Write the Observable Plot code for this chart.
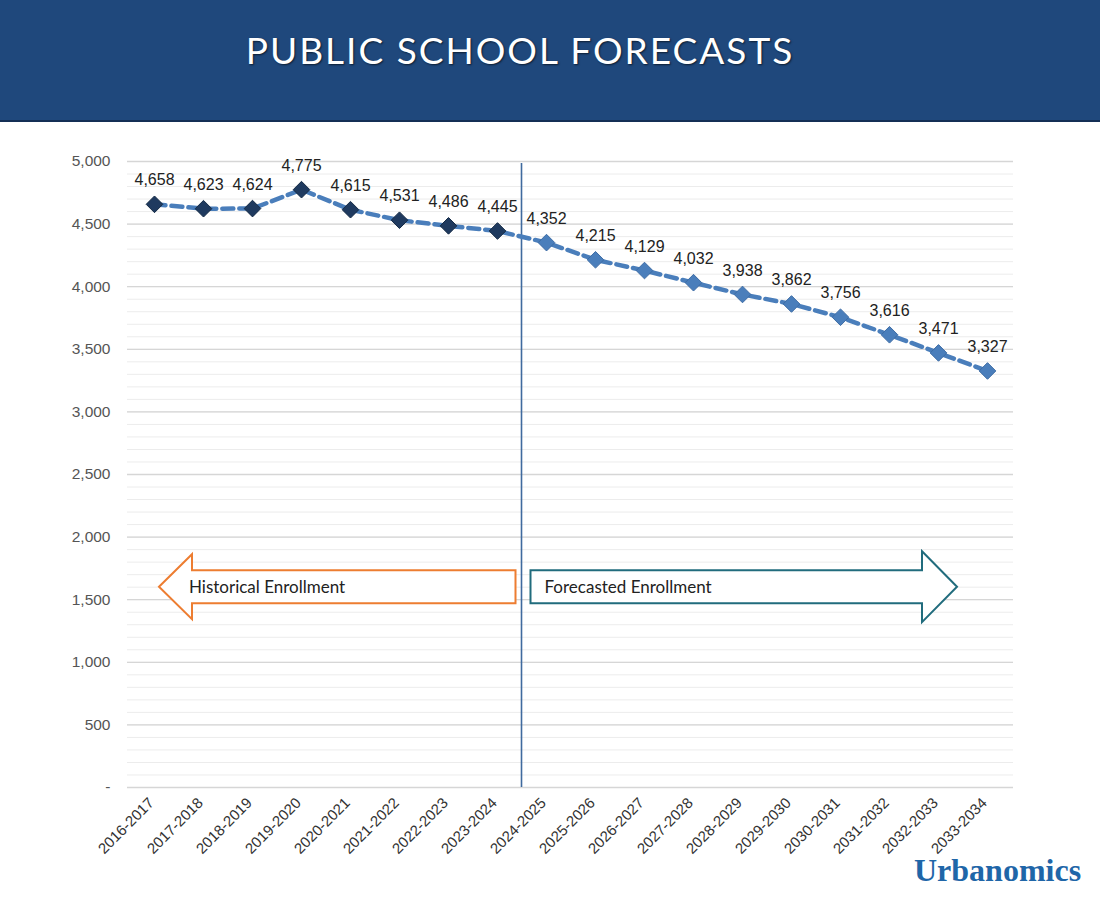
<!DOCTYPE html>
<html><head><meta charset="utf-8">
<script src="https://cdn.jsdelivr.net/npm/d3@7"></script>
<script src="https://cdn.jsdelivr.net/npm/@observablehq/plot@0.6"></script>
<style>
body{margin:0;background:#fff;width:1100px;height:921px;position:relative;overflow:hidden;font-family:Lato,"Open Sans",sans-serif}
#header{position:absolute;left:0;top:0;width:1100px;height:120px;background:#1f487c;border-bottom:2px solid #142f55}
#title{position:absolute;left:0;width:1040px;text-align:center;top:27px;color:#fff;font-size:37px;letter-spacing:2px;text-shadow:1px 1px 2px rgba(0,0,0,.6)}
#chart{position:absolute;left:0;top:122px}
#logo{position:absolute;left:914px;top:852px;font-family:"Liberation Serif",serif;font-weight:bold;font-size:32px;color:#1f66a8}
</style></head>
<body>
<div id="header"><div id="title">PUBLIC SCHOOL FORECASTS</div></div>
<div id="chart"></div>
<div id="logo">Urbanomics</div>
<script>
const years = ["2016-2017","2017-2018","2018-2019","2019-2020","2020-2021","2021-2022","2022-2023","2023-2024","2024-2025","2025-2026","2026-2027","2027-2028","2028-2029","2029-2030","2030-2031","2031-2032","2032-2033","2033-2034"];
const enrollment = [4658,4623,4624,4775,4615,4531,4486,4445,4352,4215,4129,4032,3938,3862,3756,3616,3471,3327];
const lastHistorical = "2023-2024";
const yTicks = [0,500,1000,1500,2000,2500,3000,3500,4000,4500,5000];
const minorStep = 100;
const arrowLabels = ["Historical Enrollment","Forecasted Enrollment"];
const arrowLevel = 1600;

const histIdx = years.indexOf(lastHistorical);
const data = years.map((year, i) => ({year, value: enrollment[i], hist: i <= histIdx}));
const minorTicks = d3.range(0, 5000 + minorStep, minorStep);
const fmt = d3.format(",");

function annotations(index, scales, values, dims) {
  const x = scales.x, y = scales.y;
  const xh = x(years[histIdx]), xf = x(years[histIdx + 1]);
  const xd = (xh + xf) / 2;
  const g = d3.create("svg:g");
  g.append("line").attr("x1", xd).attr("x2", xd)
    .attr("y1", dims.marginTop + 2).attr("y2", dims.height - dims.marginBottom)
    .attr("stroke", "#3f6a9e").attr("stroke-width", 1.6);
  const yc = y(arrowLevel), bh = 16.5;
  {
    const hh = 32.5, x0 = x(years[0]) + 5, hb = x0 + 33, x1 = xd - 6;
    g.append("path").attr("d", `M${x0},${yc}L${hb},${yc-hh}L${hb},${yc-bh}L${x1},${yc-bh}L${x1},${yc+bh}L${hb},${yc+bh}L${hb},${yc+hh}Z`)
      .attr("fill", "#fff").attr("stroke", "#ed7d31").attr("stroke-width", 2).attr("stroke-linejoin", "miter");
    g.append("text").attr("x", hb - 3).attr("y", yc).attr("dy", "0.35em").attr("text-anchor", "start")
      .attr("font-family", "Lato, sans-serif").attr("font-size", 17).attr("fill", "#222").text(arrowLabels[0]);
  }
  {
    const hh = 35.5, x0 = xd + 9, tip = x(years[years.length - 1]) - 30, hb = tip - 35;
    g.append("path").attr("d", `M${tip},${yc}L${hb},${yc-hh}L${hb},${yc-bh}L${x0},${yc-bh}L${x0},${yc+bh}L${hb},${yc+bh}L${hb},${yc+hh}Z`)
      .attr("fill", "#fff").attr("stroke", "#216c7d").attr("stroke-width", 2).attr("stroke-linejoin", "miter");
    g.append("text").attr("x", x0 + 14).attr("y", yc).attr("dy", "0.35em").attr("text-anchor", "start")
      .attr("font-family", "Lato, sans-serif").attr("font-size", 17).attr("fill", "#222").text(arrowLabels[1]);
  }
  return g.node();
}

const chart = Plot.plot({
  width: 1100,
  height: 799,
  marginLeft: 127,
  marginRight: 87,
  marginTop: 39,
  marginBottom: 134,
  style: {fontFamily: "'Liberation Sans', Arial, sans-serif", background: "#fff", overflow: "visible"},
  x: {type: "point", domain: years, padding: 0.5},
  y: {domain: [0, 5000]},
  marks: [
    Plot.ruleY(minorTicks, {stroke: "#ececec", strokeWidth: 1}),
    Plot.ruleY(yTicks, {stroke: "#d6d6d6", strokeWidth: 1.3}),
    Plot.axisY(yTicks, {tickSize: 0, tickPadding: 17, fontSize: 15.5, color: "#555", label: null, tickFormat: d => d === 0 ? "-" : fmt(d)}),
    Plot.axisX({tickSize: 0, tickPadding: 13, tickRotate: -45, fontSize: 15, color: "#333", label: null, dx: -3}),
    annotations,
    Plot.line(data, {x: "year", y: "value", stroke: "#4a7ebb", strokeWidth: 4.5, strokeDasharray: "11,6"}),
    Plot.dot(data.filter(d => d.hist), {x: "year", y: "value", symbol: "diamond2", r: 7.5, fill: "#1f3a5f", stroke: "#142a45", strokeWidth: 1}),
    Plot.dot(data.filter(d => !d.hist), {x: "year", y: "value", symbol: "diamond2", r: 7.5, fill: "#4a7ebb", stroke: "#3d6ca5", strokeWidth: 1}),
    Plot.text(data, {x: "year", y: "value", text: d => fmt(d.value), dy: -24, fontSize: 16, fill: "#222"})
  ]
});
document.getElementById("chart").appendChild(chart);
</script>
</body></html>
